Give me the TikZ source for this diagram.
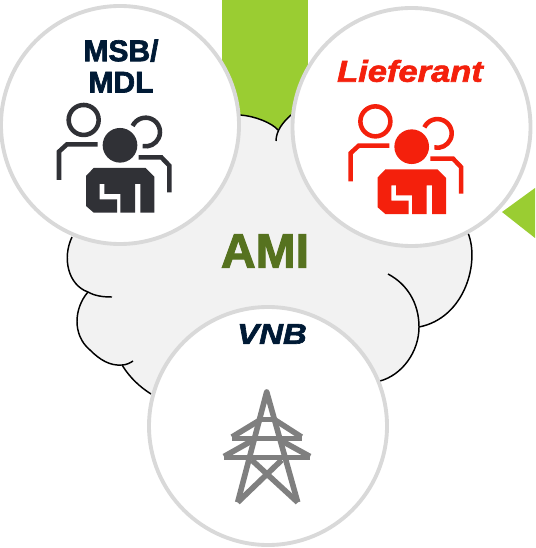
\documentclass[tikz,border=0pt]{standalone}
\usepackage{fontspec}
\setmainfont{Liberation Sans}[BoldFeatures={FakeBold=2.2},BoldItalicFeatures={FakeBold=2.2,FakeStretch=1.15}]
\definecolor{leafgreen}{HTML}{9ACD32}
\definecolor{amigreen}{HTML}{56721F}
\definecolor{cloudgray}{HTML}{F2F2F2}
\definecolor{ringgray}{HTML}{D9D9D9}
\definecolor{navy}{HTML}{001A35}
\definecolor{icondark}{HTML}{303136}
\definecolor{iconred}{HTML}{F4200C}
\definecolor{towergray}{HTML}{7F7F7F}
\begin{document}
\begin{tikzpicture}[x=0.75pt, y=-0.75pt]

    \tikzstyle{bubble} = [circle, minimum size=178.5pt, inner sep=0pt, fill=white, draw=ringgray, line width=2.9pt]
    \tikzstyle{cloudline} = [black, line width=1.1pt]
    \tikzstyle{label} = [font=\fontsize{22.5}{23.5}\selectfont\bfseries, align=center, inner sep=0pt]
    \tikzstyle{towerbar} = [towergray, line width=4.2pt, line join=round]

    \useasboundingbox (0,0) rectangle (535,548);

    % Green arrows behind the cloud
    \fill[leafgreen] (222,0) rectangle (308,150);
    \fill[leafgreen] (502,212) -- (535,188) -- (535,238) -- cycle;

    % Cloud
    \fill[cloudgray] (72,237) -- (240,115) .. controls (255,116) and (272,123) .. (278,130)
        -- (291,115) -- (468,233) .. controls (480,262) and (465,318) .. (419,327)
        .. controls (419,352) and (402,375) .. (380,381) -- (151,394)
        .. controls (140,387) and (130,378) .. (122,365) .. controls (110,366) and (100,360) .. (90,350)
        .. controls (72,335) and (74,308) .. (88,292) .. controls (68,285) and (62,258) .. (72,237) -- cycle;
    \draw[cloudline] (240,115) .. controls (255,116) and (272,123) .. (278,130);
    \draw[cloudline] (291,115) .. controls (283,122) and (276,131) .. (276,141);
    \draw[cloudline] (468,233) .. controls (480,262) and (465,318) .. (419,327);
    \draw[cloudline] (388,274) .. controls (407,284) and (419,303) .. (419,327) .. controls (419,352) and (402,375) .. (380,381);
    \draw[cloudline] (72,237) .. controls (62,258) and (68,285) .. (88,292) .. controls (95,296) and (103,297) .. (112,297);
    \draw[cloudline] (88,292) .. controls (74,308) and (72,335) .. (90,350) .. controls (100,360) and (110,366) .. (122,365) .. controls (126,365) and (130,363) .. (133,361);
    \draw[cloudline] (122,365) .. controls (130,378) and (140,387) .. (151,394);

    % Nodes
    \node[font=\fontsize{36}{38}\selectfont\bfseries, text=amigreen, inner sep=0pt] (ami) at (265,251) {AMI};
    \node[bubble] (msb) at (120,125) {};
    \node[bubble] (lieferant) at (411.5,127) {};
    \node[bubble] (vnb) at (268,426) {};
    \node[label, text=navy] (msblabel) at (121,66) {MSB/\\MDL};
    \node[label, text=iconred, font=\fontsize{22.5}{24}\selectfont\bfseries\itshape] (lieferantlabel) at (410,71) {Lieferant};
    \node[label, text=navy, font=\fontsize{21.5}{24}\selectfont\bfseries\itshape] (vnblabel) at (272,334) {VNB};

    % People icons
    \foreach \hx/\hy/\col in {120/145.3/icondark, 411.7/146.7/iconred} {
        \begin{scope}[shift={(\hx,\hy)}, scale=1/3, \col]
            \fill (0,0) circle (52);
            \draw[line width=3.4pt] (-109,-76) circle (45);
            \draw[line width=3.4pt] (38,-58) arc[start angle=-155, end angle=102, radius=43];
            \draw[line width=3.4pt] (-67,-3) -- (-159,-3) -- (-183,19) -- (-183,104);
            \draw[line width=3.4pt] (56,36) -- (124,36) -- (148,61) -- (148,141);
            \fill (-79,68) -- (77,68) -- (103,94) -- (103,202) -- (61,202) -- (61,116) -- (45,116)
                -- (45,202) -- (1,202) -- (1,146) -- (-47,146) -- (-47,116) -- (-61,116) -- (-61,162)
                -- (-9,162) -- (-9,202) -- (-79,202) -- (-102,182) -- (-102,92) -- cycle;
        \end{scope}
    }

    % Tower
    \draw[towerbar] (237.7,502.3) -- (266.7,392) -- (297.7,502.3);
    \draw[towerbar] (237.7,502.3) -- (281.7,460);
    \draw[towerbar] (297.7,502.3) -- (251.7,460);
    \draw[towerbar] (261.7,419.3) -- (273.3,419.3);
    \draw[towerbar] (231.7,438.3) -- (301.7,438.3);
    \draw[towerbar] (232,437) -- (260,420);
    \draw[towerbar] (301.5,437) -- (275,420);
    \draw[towerbar] (224,457.3) -- (310,457.3);
    \draw[towerbar] (224,456.5) -- (253.3,440);
    \draw[towerbar] (310,456.5) -- (280,440);

\end{tikzpicture}
\end{document}
